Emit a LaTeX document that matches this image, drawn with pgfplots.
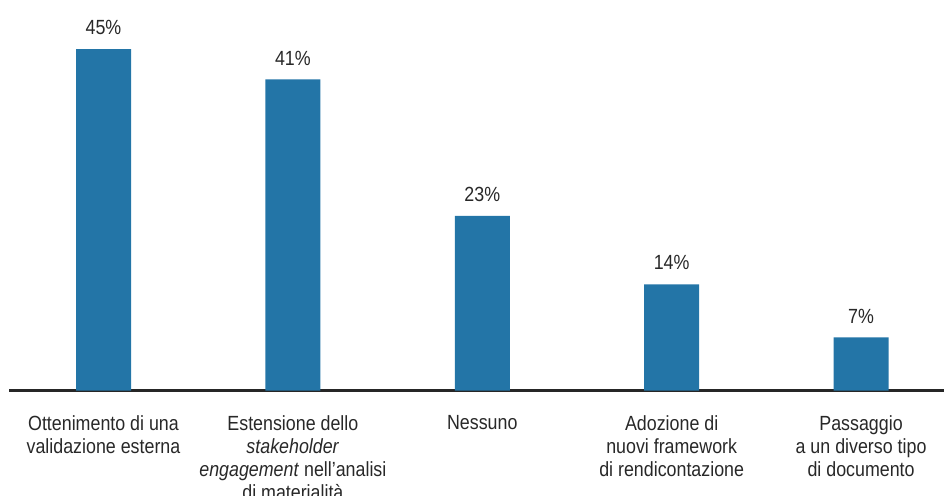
\documentclass[border=0pt]{standalone}
\usepackage{fontspec}
\setmainfont{Liberation Sans}[FakeStretch=0.87]
\usepackage{pgfplots}
\pgfplotsset{compat=1.18}
\definecolor{barblue}{RGB}{35,117,167}
\definecolor{txt}{RGB}{40,40,40}

\begin{document}
\begin{tikzpicture}
\useasboundingbox (-9pt,-104.5pt) rectangle (935pt,390.5pt);
\begin{axis}[
    scale only axis,
    width=935pt, height=390.5pt,
    xmin=-0.499, xmax=4.438,
    ymin=0, ymax=51.46,
    clip=false,
    /pgf/number format/assume math mode=true,
    axis x line*=bottom,
    x axis line style={-, line width=2.5pt, color=black!85},
    hide y axis,
    xtick=data,
    major tick length=0pt,
    xticklabels={
        {Ottenimento di una\\validazione esterna},
        {Estensione dello\\\textit{stakeholder}\\\textit{engagement} nell’analisi\\di materialità},
        {Nessuno},
        {Adozione di\\nuovi framework\\di rendicontazione},
        {Passaggio\\a un diverso tipo\\di documento}},
    xticklabel style={align=center, anchor=north, inner sep=0pt, yshift=-25pt,
        font={\fontsize{20.5}{23}\selectfont}, text=txt},
    ybar,
    bar width=55pt,
    nodes near coords={\pgfmathprintnumber{\pgfplotspointmeta}\%},
    every node near coord/.append style={inner sep=0pt, yshift=14pt,
        font={\fontsize{20.5}{23}\selectfont}, text=txt},
]
\addplot[fill=barblue, draw=none] coordinates {
    (0,45) (1,41) (2,23) (3,14) (4,7)
};
\end{axis}
\end{tikzpicture}
\end{document}
